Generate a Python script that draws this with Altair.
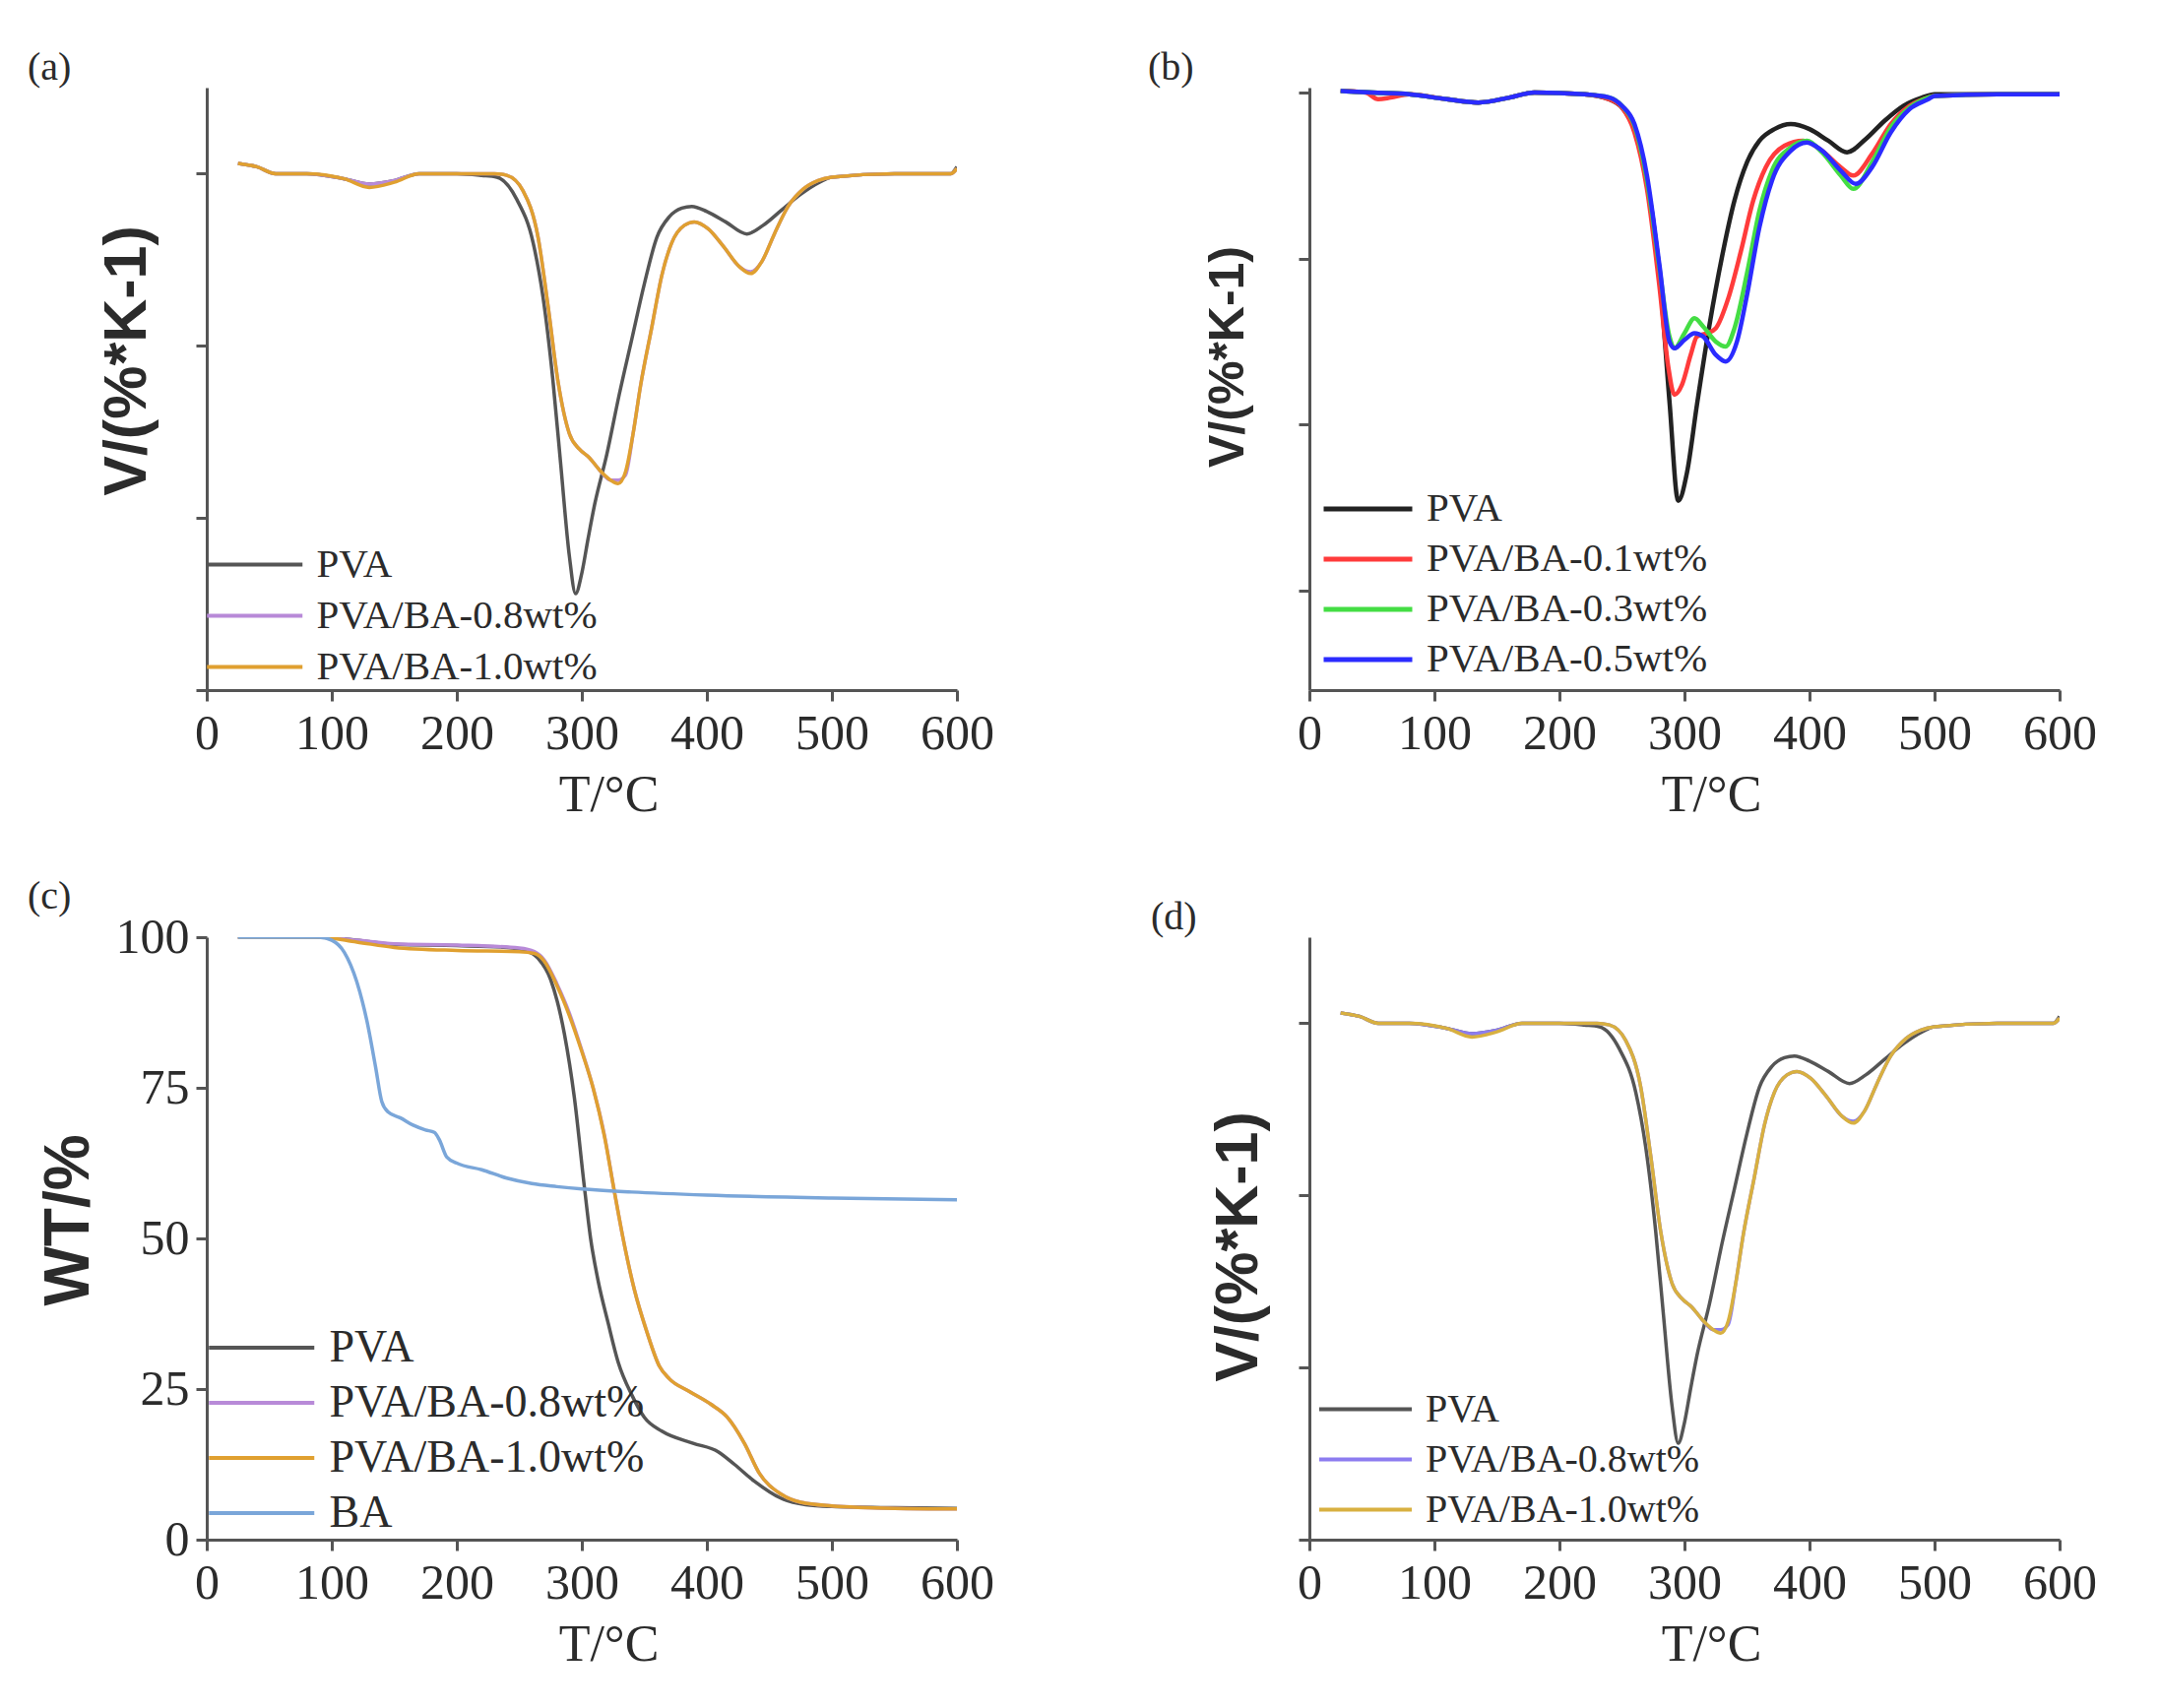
import altair as alt
import pandas as pd

# ---------------- data ----------------
# panel (a) / (d): DTG curves
A_PVA_T = [25, 40, 55, 80, 110, 130, 150, 170, 200, 220, 232, 248, 261, 269, 277, 283, 290, 295, 300, 305, 310, 320,
           330, 340, 350, 360, 370, 380, 388, 400, 415, 432, 445, 460, 475, 490, 500, 550, 595, 600]
A_PVA_V = [0.06, 0.04, 0.0, 0.0, -0.03, -0.06, -0.04, 0.0, 0.0, -0.01, -0.02, -0.15, -0.40, -0.72, -1.21, -1.68, -2.22,
           -2.44, -2.32, -2.12, -1.93, -1.63, -1.28, -0.96, -0.64, -0.37, -0.25, -0.20, -0.19, -0.22, -0.28, -0.35,
           -0.30, -0.21, -0.12, -0.05, -0.02, 0.0, 0.0, 0.04]
A_BA_T = [25, 40, 55, 80, 110, 130, 150, 170, 200, 230, 240, 253, 265, 273, 281, 290, 298, 306, 314, 323, 329, 335, 341,
          347, 356, 364, 372, 382, 390, 401, 413, 426, 435, 444, 454, 465, 477, 489, 500, 550, 595, 600]
A_BA08_V = [0.06, 0.04, 0.0, 0.0, -0.03, -0.06, -0.04, 0.0, 0.0, 0.0, -0.01, -0.10, -0.37, -0.77, -1.21, -1.51, -1.60,
            -1.65, -1.72, -1.78, -1.78, -1.75, -1.51, -1.23, -0.89, -0.59, -0.40, -0.30, -0.28, -0.32, -0.42, -0.54,
            -0.57, -0.51, -0.35, -0.19, -0.09, -0.04, -0.02, 0.0, 0.0, 0.03]
A_BA10_V = [0.06, 0.04, 0.0, 0.0, -0.03, -0.08, -0.05, 0.0, 0.0, 0.0, -0.01, -0.10, -0.37, -0.77, -1.21, -1.51, -1.60,
            -1.65, -1.72, -1.78, -1.80, -1.73, -1.51, -1.23, -0.89, -0.59, -0.40, -0.30, -0.28, -0.32, -0.42, -0.54,
            -0.58, -0.51, -0.35, -0.19, -0.09, -0.04, -0.02, 0.0, 0.0, 0.03]

# panel (b): DTG curves
B_PVA_T = [25, 50, 80, 110, 135, 160, 180, 220, 240, 250, 260, 270, 280, 288, 295, 302, 310, 320, 330, 340, 350, 360,
           372, 385, 400, 415, 430, 445, 460, 475, 490, 500, 550, 600]
B_PVA_V = [0.01, 0.0, -0.01, -0.04, -0.06, -0.03, 0.0, -0.01, -0.04, -0.09, -0.22, -0.53, -1.09, -1.86, -2.46, -2.29,
           -1.88, -1.40, -0.99, -0.65, -0.42, -0.29, -0.22, -0.19, -0.22, -0.29, -0.36, -0.28, -0.17, -0.08, -0.03,
           -0.01, -0.01, -0.01]
B_01_T = [25, 45, 55, 65, 80, 110, 135, 160, 180, 220, 240, 250, 260, 270, 280, 287, 292, 298, 305, 310, 318, 325, 335,
          345, 355, 365, 380, 395, 410, 425, 435, 450, 465, 480, 495, 500, 550, 600]
B_01_V = [0.01, 0.0, -0.04, -0.03, -0.01, -0.04, -0.06, -0.03, 0.0, -0.01, -0.04, -0.09, -0.24, -0.58, -1.17, -1.65,
          -1.82, -1.76, -1.58, -1.47, -1.45, -1.42, -1.24, -0.96, -0.65, -0.45, -0.32, -0.29, -0.35, -0.45, -0.50,
          -0.37, -0.19, -0.08, -0.03, -0.02, -0.01, -0.01]
B_03_T = [25, 50, 80, 110, 135, 160, 180, 220, 240, 250, 260, 270, 280, 288, 292, 300, 308, 315, 325, 333, 340, 350,
          360, 370, 385, 398, 410, 425, 435, 450, 465, 480, 495, 500, 550, 600]
B_03_V = [0.01, 0.0, -0.01, -0.04, -0.06, -0.03, 0.0, -0.01, -0.03, -0.08, -0.20, -0.53, -1.06, -1.47, -1.54, -1.45,
          -1.36, -1.41, -1.50, -1.53, -1.42, -1.09, -0.71, -0.47, -0.33, -0.29, -0.36, -0.50, -0.58, -0.42, -0.21,
          -0.09, -0.03, -0.02, -0.01, -0.01]
B_05_T = [25, 50, 80, 110, 135, 160, 180, 220, 240, 250, 260, 270, 280, 288, 292, 300, 308, 315, 325, 333, 342, 350,
          360, 370, 385, 398, 410, 425, 437, 450, 465, 480, 495, 500, 550, 600]
B_05_V = [0.01, 0.0, -0.01, -0.04, -0.06, -0.03, 0.0, -0.01, -0.03, -0.08, -0.19, -0.50, -1.04, -1.50, -1.54, -1.49,
          -1.45, -1.47, -1.58, -1.62, -1.50, -1.22, -0.81, -0.53, -0.35, -0.30, -0.35, -0.47, -0.55, -0.45, -0.24,
          -0.10, -0.04, -0.02, -0.01, -0.01]

# panel (c): TG curves (WT/%)
C_PVA_T = [25, 80, 100, 120, 150, 200, 240, 255, 265, 275, 286, 294, 302, 307, 313, 321, 329, 340, 350, 364, 389, 409,
           422, 438, 459, 479, 500, 550, 600]
C_PVA_W = [100, 100, 99.9, 99.5, 98.8, 98.6, 98.3, 97.8, 96.5, 93, 84, 73.4, 58.6, 50, 43, 36, 29.5, 24, 20.3, 18, 16,
           14.6, 12.5, 9.7, 6.9, 5.8, 5.5, 5.3, 5.2]
C_BA_T = [25, 90, 120, 150, 200, 250, 262, 270, 280, 290, 300, 309, 318, 326, 333, 342, 352, 362, 370, 386, 403, 416,
          430, 442, 459, 475, 500, 550, 600]
C_BA08_W = [100, 100, 99.5, 98.9, 98.7, 98.2, 97.6, 96.2, 92.3, 87.4, 81.2, 75, 67.2, 57.8, 50, 41.5, 34.5, 28.8, 26.7,
            24.6, 22.5, 20.4, 16, 11, 7.6, 6.2, 5.6, 5.2, 5.1]
C_BA10_W = [100, 100, 99.2, 98.3, 97.8, 97.6, 97.3, 96.0, 92.0, 87.0, 81.0, 75, 67.0, 57.8, 50, 41.5, 34.5, 28.8, 26.7,
            24.6, 22.5, 20.4, 16, 11, 7.6, 6.2, 5.6, 5.2, 5.1]
C_PUREBA_T = [25, 90, 100, 110, 120, 128, 135, 140, 145, 155, 165, 175, 182, 186, 192, 200, 220, 240, 260, 280, 300,
              340, 400, 500, 600]
C_PUREBA_W = [100, 100, 99.5, 97.5, 92.6, 86.2, 78.5, 72.7, 71, 70, 68.8, 68, 67.6, 66.4, 63.5, 62.5, 61.4, 60, 59.1,
              58.6, 58.2, 57.7, 57.2, 56.7, 56.4]

X_TICKS = [0, 100, 200, 300, 400, 500, 600]

# ---------------- styling ----------------
SERIF = "Liberation Serif"
SANS = "Liberation Sans"
TXT = "#2b2b2b"
AXC = "#555555"
W = 762
H = 612
# legend line symbol: a horizontal stroke starting at the entry's left edge
LINE_SYMBOL = "M-1,0H3"


def make_df(series):
    rows = []
    for name, ts, vs in series:
        for t, v in zip(ts, vs):
            rows.append({"series": name, "T": t, "V": v})
    return pd.DataFrame(rows)


def x_axis():
    return alt.Axis(values=X_TICKS, title="T/°C", grid=False, labelFlush=False, labelOverlap=False,
                    labelFont=SERIF, labelFontSize=50, labelColor=TXT, labelPadding=8,
                    titleFont=SERIF, titleFontSize=52, titleFontWeight="normal", titleColor=TXT,
                    titlePadding=12, titleX=W / 2 + 27, domainColor=AXC, domainWidth=3, tickColor=AXC,
                    tickWidth=3, tickSize=11)


def y_axis(values, labels, title, tpad, tsize, ty):
    return alt.Axis(values=values, labels=labels, title=title, grid=False, labelFont=SERIF, labelFontSize=50,
                    labelColor=TXT, labelPadding=7, titleFont=SANS, titleFontSize=tsize, titleFontWeight="bold",
                    titleColor=TXT, titlePadding=tpad, titleY=ty, domainColor=AXC, domainWidth=3, tickColor=AXC,
                    tickWidth=3, tickSize=11)


def legend(lx, ly, size, linelen, sw, rowpad, gap=12):
    unit = linelen / 2.0  # = sqrt(symbolSize); the path spans 2 units
    return alt.Legend(title=None, orient="none", legendX=lx, legendY=ly, symbolType=LINE_SYMBOL,
                      symbolSize=unit * unit, symbolStrokeWidth=sw, labelFont=SERIF, labelFontSize=size,
                      labelColor=TXT, labelOffset=linelen + gap - unit, rowPadding=rowpad, padding=0,
                      labelLimit=1000)


def panel(df, names, colors, ydom, yvals, ylabels, ytitle, ytpad, ytsize, ty, lab, toff, tdx, leg, sw):
    return alt.Chart(df).mark_line(interpolate="monotone", strokeWidth=sw, clip=True).encode(
        x=alt.X("T:Q", scale=alt.Scale(domain=[0, 600], nice=False, zero=False), axis=x_axis()),
        y=alt.Y("V:Q", scale=alt.Scale(domain=ydom, nice=False, zero=False),
                axis=y_axis(yvals, ylabels, ytitle, ytpad, ytsize, ty)),
        color=alt.Color("series:N", scale=alt.Scale(domain=names, range=colors), legend=leg),
    ).properties(
        width=W, height=H,
        title=alt.TitleParams(lab, anchor="start", frame="group", dx=tdx, offset=toff, font=SERIF,
                              fontSize=40, fontWeight="normal", color=TXT),
    )


names_a = ["PVA", "PVA/BA-0.8wt%", "PVA/BA-1.0wt%"]
df_a = make_df([(names_a[0], A_PVA_T, A_PVA_V), (names_a[1], A_BA_T, A_BA08_V), (names_a[2], A_BA_T, A_BA10_V)])
names_b = ["PVA", "PVA/BA-0.1wt%", "PVA/BA-0.3wt%", "PVA/BA-0.5wt%"]
df_b = make_df([(names_b[0], B_PVA_T, B_PVA_V), (names_b[1], B_01_T, B_01_V), (names_b[2], B_03_T, B_03_V),
                (names_b[3], B_05_T, B_05_V)])
names_c = ["PVA", "PVA/BA-0.8wt%", "PVA/BA-1.0wt%", "BA"]
df_c = make_df([(names_c[0], C_PVA_T, C_PVA_W), (names_c[1], C_BA_T, C_BA08_W), (names_c[2], C_BA_T, C_BA10_W),
                (names_c[3], C_PUREBA_T, C_PUREBA_W)])
df_d = df_a.copy()

VTITLE = "V/(%*K-1)"

pa = panel(df_a, names_a, ["#555555", "#b88ad8", "#e0a030"], [-3, 0.5], [0, -1, -2, -3], False, VTITLE, 37, 61,
           277, "(a)", 0, -182, legend(-2, 458, 41, 97, 4, 5), 3.5)
pb = panel(df_b, names_b, ["#222222", "#ff3b3b", "#44dd44", "#2b2bff"], [-3.6, 0.03], [0, -1, -2, -3], False,
           VTITLE, 45, 50, 273, "(b)", 0, -164, legend(12, 403, 41, 90, 5, 6), 4.5)
pc = panel(df_c, names_c, ["#555555", "#b88ad8", "#e0a030", "#7aa6d9"], [0, 100], [0, 25, 50, 75, 100], True,
           "WT/%", 15, 64, 287, "(c)", -4, -182, legend(0, 388, 46, 107, 4, 4, 13), 3.5)
pd_ = panel(df_d, names_a, ["#555555", "#8c7cf0", "#d8b040"], [-3, 0.5], [0, -1, -2, -3], False, VTITLE, 28, 61,
            314, "(d)", 0, -161, legend(8, 454, 40, 94, 4, 5), 3.5)

chart = alt.concat(pa, pb, pc, pd_, columns=2, spacing={"row": 58, "column": 156}).resolve_scale(
    color="independent", x="independent", y="independent"
).properties(
    padding={"left": 20, "top": 41, "right": 5, "bottom": 5}
).configure_view(stroke=None)

chart.save("out.html", embed_options={"renderer": "svg", "actions": False})
